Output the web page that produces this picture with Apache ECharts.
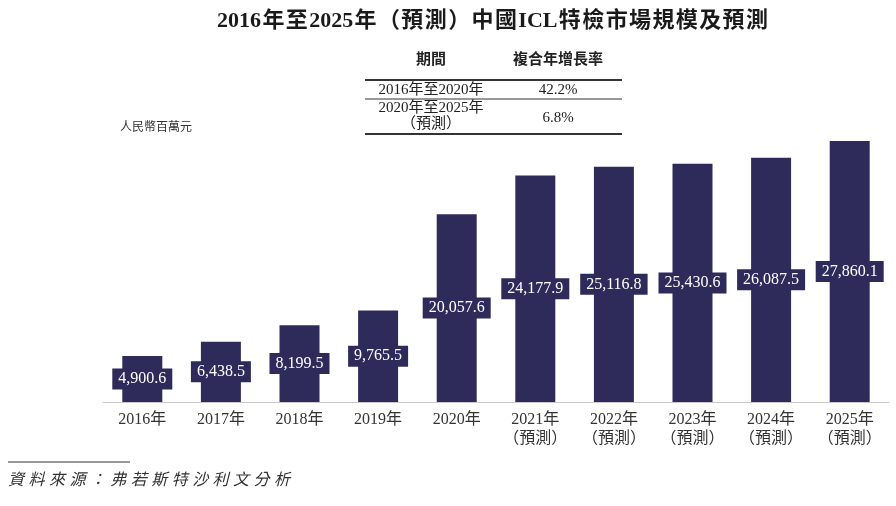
<!DOCTYPE html>
<html><head><meta charset="utf-8">
<script src="https://cdn.jsdelivr.net/npm/echarts@6/dist/echarts.min.js"></script>
<style>html,body{margin:0;padding:0;background:#fff}#c{width:896px;height:506px}</style>
</head><body><div id="c"></div>
<script>
const categories = ['2016年','2017年','2018年','2019年','2020年','2021年\n（預測）','2022年\n（預測）','2023年\n（預測）','2024年\n（預測）','2025年\n（預測）'];
const marketSize = [4900.6, 6438.5, 8199.5, 9765.5, 20057.6, 24177.9, 25116.8, 25430.6, 26087.5, 27860.1];
const tableHeader = ['期間', '複合年增長率'];
const tablePeriods = ['2016年至2020年', '2020年至2025年\n（預測）'];
const tableCagr = ['42.2%', '6.8%'];
const titleText = '2016年至2025年（預測）中國ICL特檢市場規模及預測';
const unitText = '人民幣百萬元';
const sourceText = '資料來源：弗若斯特沙利文分析';

const SERIF = "'Liberation Serif','Noto Sans CJK TC',serif";
const barColor = '#2e2b5b';
const chart = echarts.init(document.getElementById('c'));

// lay out a string with extra spacing around CJK characters so that it spans [x0, x1]
const ctx = document.createElement('canvas').getContext('2d');
function spacedText(str, font, x0, x1, y, fill) {
  ctx.font = font;
  const tokens = str.match(/[\x00-\x7F]+|./gu);
  const widths = tokens.map(t => ctx.measureText(t).width);
  const natural = widths.reduce((a, b) => a + b, 0);
  const gap = tokens.length > 1 ? (x1 - x0 - natural) / (tokens.length - 1) : 0;
  const out = [];
  let x = x0;
  tokens.forEach((t, i) => {
    out.push({type:'text', silent:true, style:{x:x, y:y, text:t, font:font, fill:fill, align:'left', verticalAlign:'middle'}});
    x += widths[i] + gap;
  });
  return out;
}

const graphics = [];
// title
graphics.push(...spacedText(titleText, "bold 22px " + SERIF, 217, 768, 21, '#1a1a1a'));
// table
const tx0 = 365, tx1 = 622, c1 = 431, c2 = 558;
const tfont = "15px " + SERIF;
graphics.push({type:'text', style:{x:c1, y:60, text:tableHeader[0], font:"bold 15px "+SERIF, fill:'#222', align:'center', verticalAlign:'middle'}});
graphics.push({type:'text', style:{x:c2, y:60, text:tableHeader[1], font:"bold 15px "+SERIF, fill:'#222', align:'center', verticalAlign:'middle'}});
graphics.push({type:'line', shape:{x1:tx0, y1:80, x2:tx1, y2:80}, style:{stroke:'#333', lineWidth:2}});
graphics.push({type:'line', shape:{x1:tx0, y1:99, x2:tx1, y2:99}, style:{stroke:'#333', lineWidth:1}});
graphics.push({type:'line', shape:{x1:tx0, y1:134, x2:tx1, y2:134}, style:{stroke:'#333', lineWidth:2}});
graphics.push({type:'text', style:{x:c1, y:90, text:tablePeriods[0], font:tfont, fill:'#222', align:'center', verticalAlign:'middle'}});
graphics.push({type:'text', style:{x:c2, y:90, text:tableCagr[0], font:tfont, fill:'#222', align:'center', verticalAlign:'middle'}});
graphics.push({type:'text', style:{x:c1, y:116, text:tablePeriods[1], font:tfont, fill:'#222', align:'center', verticalAlign:'middle', lineHeight:16}});
graphics.push({type:'text', style:{x:c2, y:118, text:tableCagr[1], font:tfont, fill:'#222', align:'center', verticalAlign:'middle'}});
// unit
graphics.push({type:'text', style:{x:120, y:128, text:unitText, font:"12px "+SERIF, fill:'#333', align:'left', verticalAlign:'middle'}});
// source
graphics.push({type:'line', shape:{x1:8, y1:462, x2:130, y2:462}, style:{stroke:'#333', lineWidth:1}});
graphics.push(...spacedText(sourceText, "italic 16px " + SERIF, 8, 290, 481, '#333'));

chart.setOption({
  animation:false,
  grid:{left:103, right:7, top:121, bottom:104},
  xAxis:{type:'category', data:categories,
    axisLine:{lineStyle:{color:'#c8c8c8', width:1}}, axisTick:{show:false},
    axisLabel:{fontSize:16, fontFamily:SERIF, color:'#333', margin:8, lineHeight:19, interval:0}},
  yAxis:{type:'value', min:0, max:30000, show:false, splitLine:{show:false}},
  series:[{type:'bar', data:marketSize, barWidth:40, itemStyle:{color:barColor},
    label:{show:true, position:'inside', color:'#fff', fontSize:16, fontFamily:SERIF,
      backgroundColor:barColor, padding:[3,6,2,6],
      formatter:p => p.value.toLocaleString('en-US',{minimumFractionDigits:1, maximumFractionDigits:1})}}],
  graphic:graphics
});
</script></body></html>
